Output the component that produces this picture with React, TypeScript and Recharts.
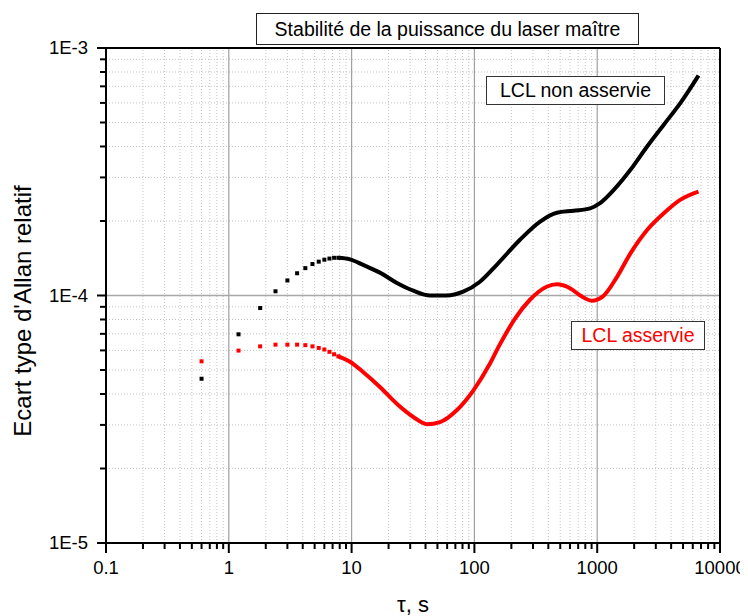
import React from "react";
import {
  ScatterChart,
  Scatter,
  XAxis,
  YAxis,
  ReferenceLine,
} from "recharts";

// tau (s) of the first, well separated points (every 0.6 s)
const tauDots = [0.6, 1.2, 1.8, 2.4, 3.0, 3.6, 4.2, 4.8, 5.4, 6.0, 6.6, 7.2, 7.8];
const blackDots = [4.61e-5, 6.97e-5, 8.9e-5, 1.04e-4, 1.15e-4, 1.23e-4, 1.29e-4, 1.34e-4, 1.37e-4, 1.395e-4, 1.41e-4, 1.42e-4, 1.42e-4];
const redDots = [5.42e-5, 5.99e-5, 6.23e-5, 6.33e-5, 6.33e-5, 6.33e-5, 6.3e-5, 6.23e-5, 6.14e-5, 6.05e-5, 5.92e-5, 5.79e-5, 5.68e-5];

// dense part, where the points merge into a line
const tauBlack = [7.8, 9.7, 12.4, 17.0, 23.2, 31.8, 43.4, 59.3, 81, 111, 152, 235, 343, 469, 642, 877, 1055, 1365, 1865, 2550, 3486, 4768, 6680];
const blackCurve = [1.42e-4, 1.40e-4, 1.33e-4, 1.237e-4, 1.127e-4, 1.046e-4, 1.0e-4, 1.0e-4, 1.036e-4, 1.137e-4, 1.33e-4, 1.68e-4, 1.99e-4, 2.16e-4, 2.20e-4, 2.25e-4, 2.36e-4, 2.67e-4, 3.22e-4, 4.0e-4, 4.9e-4, 6.0e-4, 7.74e-4];

const tauRed = [7.8, 9.7, 12.4, 17.0, 23.2, 31.8, 41.1, 52.4, 71.8, 98.2, 134, 160, 215, 282, 387, 469, 600, 728, 903, 1108, 1451, 1865, 2550, 3486, 4768, 6680];
const redCurve = [5.68e-5, 5.40e-5, 4.91e-5, 4.27e-5, 3.66e-5, 3.23e-5, 3.02e-5, 3.08e-5, 3.44e-5, 4.14e-5, 5.31e-5, 6.3e-5, 8.09e-5, 9.59e-5, 1.085e-4, 1.11e-4, 1.07e-4, 1.0e-4, 0.953e-4, 0.99e-4, 1.19e-4, 1.48e-4, 1.84e-4, 2.15e-4, 2.44e-4, 2.63e-4];

const xMajor = [0.1, 1, 10, 100, 1000, 10000];
const yMajor = [1e-5, 1e-4, 1e-3];
const mantissas = [1, 2, 3, 4, 5, 6, 7, 8, 9];

const xTicks = xMajor.slice(0, -1).flatMap((d) => mantissas.map((m) => +(m * d).toPrecision(3))).concat([10000]);
const yTicks = yMajor.slice(0, -1).flatMap((d) => mantissas.map((m) => +(m * d).toPrecision(3))).concat([1e-3]);
const xMinor = xTicks.filter((v) => !xMajor.includes(v));
const yMinor = yTicks.filter((v) => !yMajor.includes(v));

const pts = (t: number[], v: number[]) => t.map((tau, i) => ({ tau, s: v[i] }));

const isMajor = (v: number) => Math.abs(Math.log10(v) - Math.round(Math.log10(v))) < 1e-6;

function XTick(props: any) {
  const { x, y, payload } = props;
  const major = isMajor(payload.value);
  return (
    <g>
      <line x1={x} y1={y - 1} x2={x} y2={y + (major ? 10 : 6)} stroke="#000" strokeWidth={2} />
      {major && (
        <text x={x} y={y + 31} textAnchor="middle" fontSize={18.5} fill="#000" stroke="none">
          {String(payload.value)}
        </text>
      )}
    </g>
  );
}

function YTick(props: any) {
  const { x, y, payload } = props;
  const major = isMajor(payload.value);
  return (
    <g>
      <line x1={x - (major ? 9 : 6)} y1={y} x2={x + 1} y2={y} stroke="#000" strokeWidth={2} />
      {major && (
        <text x={x - 18} y={y} dy="0.35em" textAnchor="end" fontSize={18.5} fill="#000" stroke="none">
          {"1E" + Math.round(Math.log10(payload.value))}
        </text>
      )}
    </g>
  );
}

const square = (color: string) => (p: any) => (
  <rect x={p.cx - 2} y={p.cy - 2} width={4} height={4} fill={color} />
);
const noDot = () => <g />;

const box: React.CSSProperties = {
  position: "absolute",
  boxSizing: "border-box",
  background: "#fff",
  display: "flex",
  alignItems: "center",
  justifyContent: "center",
  fontSize: 19.5,
  whiteSpace: "nowrap",
};

export default function App() {
  return (
    <div style={{ position: "relative", width: 740, height: 608, fontFamily: "'Liberation Sans', Arial, sans-serif" }}>
      <ScatterChart width={740} height={600} margin={{ top: 40, right: 28, left: 0, bottom: 0 }}>
        <XAxis
          dataKey="tau"
          type="number"
          scale="log"
          domain={[0.1, 10000]}
          ticks={xTicks}
          interval={0}
          tick={<XTick />}
          tickSize={0}
          tickMargin={0}
          tickLine={false}
          axisLine={{ stroke: "#000", strokeWidth: 2 }}
          height={65}
        />
        <YAxis
          dataKey="s"
          type="number"
          scale="log"
          domain={[1e-5, 1e-3]}
          ticks={yTicks}
          interval={0}
          tick={<YTick />}
          tickSize={0}
          tickMargin={0}
          tickLine={false}
          axisLine={{ stroke: "#000", strokeWidth: 2 }}
          width={98}
        />
        {xMinor.map((v) => (
          <ReferenceLine key={"xm" + v} x={v} stroke="#c4c4c4" strokeDasharray="1 2" />
        ))}
        {yMinor.map((v) => (
          <ReferenceLine key={"ym" + v} y={v} stroke="#c4c4c4" strokeDasharray="1 2" />
        ))}
        {[1, 10, 100, 1000].map((v) => (
          <ReferenceLine key={"xM" + v} x={v} stroke="#a0a0a0" strokeWidth={1.2} />
        ))}
        <ReferenceLine y={1e-4} stroke="#a8a8a8" strokeWidth={1.5} />
        <ReferenceLine x={10000} stroke="#000" strokeWidth={2} />
        <ReferenceLine y={1e-3} stroke="#000" strokeWidth={2} />

        <Scatter data={pts(tauDots, blackDots)} shape={square("#000")} isAnimationActive={false} />
        <Scatter data={pts(tauDots, redDots)} shape={square("#ff0000")} isAnimationActive={false} />
        <Scatter
          data={pts(tauBlack, blackCurve)}
          line={{ stroke: "#000", strokeWidth: 4 }}
          lineType="joint"
          lineJointType="monotoneX"
          shape={noDot}
          isAnimationActive={false}
        />
        <Scatter
          data={pts(tauRed, redCurve)}
          line={{ stroke: "#ff0000", strokeWidth: 4 }}
          lineType="joint"
          lineJointType="monotoneX"
          shape={noDot}
          isAnimationActive={false}
        />
      </ScatterChart>

      <div style={{ ...box, left: 248, top: 5, width: 383, height: 32, border: "1px solid #222" }}>
        Stabilité de la puissance du laser maître
      </div>
      <div style={{ ...box, left: 478, top: 68, width: 179, height: 29, border: "1.5px solid #333" }}>
        LCL non asservie
      </div>
      <div style={{ ...box, left: 563, top: 313, width: 134, height: 29, border: "1.5px solid #333", color: "#ff0000" }}>
        LCL asservie
      </div>
      <div
        style={{
          position: "absolute",
          left: 15,
          top: 303,
          transform: "translate(-50%, -50%) rotate(-90deg)",
          fontSize: 24,
          whiteSpace: "nowrap",
        }}
      >
        Ecart type d'Allan relatif
      </div>
      <div
        style={{
          position: "absolute",
          left: 405,
          top: 597,
          transform: "translate(-50%, -50%)",
          fontSize: 22,
          whiteSpace: "nowrap",
        }}
      >
        τ, s
      </div>
    </div>
  );
}
